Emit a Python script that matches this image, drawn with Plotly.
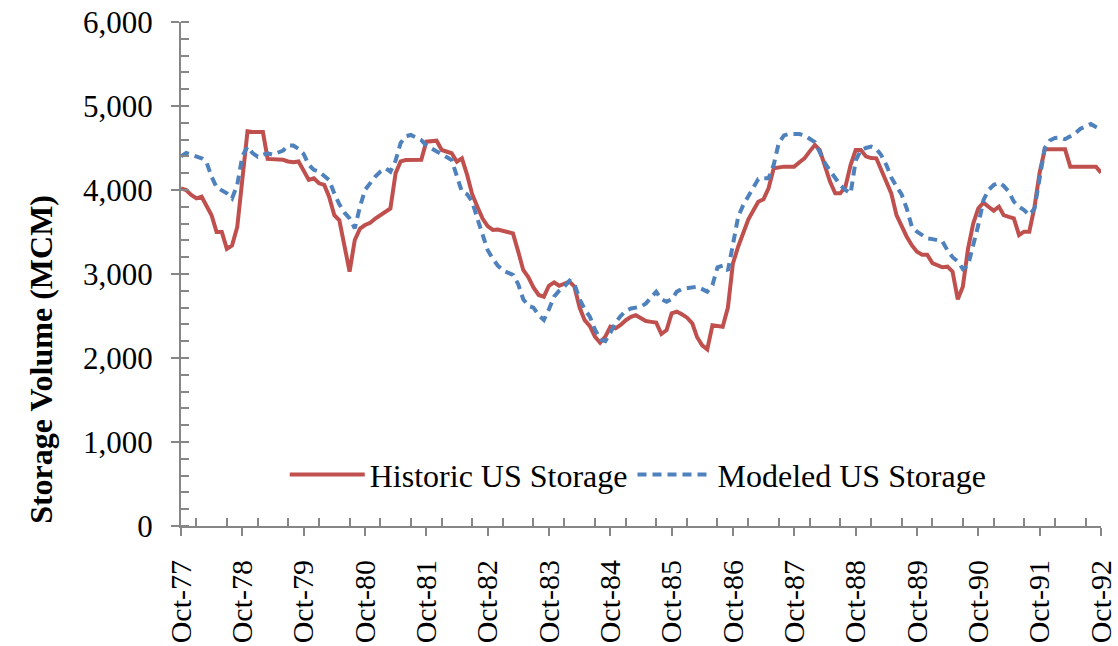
import pandas as pd
import plotly.graph_objects as go

# Monthly dates, Oct-1977 .. Oct-1992
months = pd.date_range("1977-10-01", "1992-10-01", freq="MS")

historic = [
    4020, 4000, 3940, 3900, 3920, 3820, 3700, 3500, 3500, 3300, 3340, 3560,   # Oct77-Sep78
    4150, 4700, 4690, 4690, 4690, 4370, 4365, 4360, 4360, 4340, 4330, 4340,   # Oct78-Sep79
    4220, 4120, 4140, 4080, 4060, 3920, 3700, 3640, 3330, 3028, 3405, 3540,   # Oct79-Sep80
    3583, 3610, 3660, 3702, 3740, 3780, 4200, 4340, 4357, 4357, 4357, 4360,   # Oct80-Sep81
    4575, 4580, 4587, 4476, 4450, 4437, 4337, 4377, 4180, 3950, 3800, 3660,   # Oct81-Sep82
    3570, 3524, 3530, 3510, 3500, 3484, 3270, 3048, 2960, 2840, 2750, 2730,   # Oct82-Sep83
    2860, 2900, 2860, 2880, 2909, 2849, 2600, 2450, 2380, 2254, 2182, 2254,   # Oct83-Sep84
    2373, 2353, 2393, 2450, 2490, 2510, 2470, 2440, 2430, 2421, 2286, 2333,   # Oct84-Sep85
    2532, 2552, 2520, 2480, 2413, 2250, 2150, 2103, 2390, 2380, 2373, 2600,   # Oct85-Sep86
    3127, 3325, 3500, 3650, 3762, 3861, 3889, 4020, 4258, 4270, 4278, 4278,   # Oct86-Sep87
    4278, 4330, 4377, 4460, 4536, 4476, 4278, 4100, 3960, 3960, 4040, 4300,   # Oct87-Sep88
    4476, 4476, 4400, 4380, 4377, 4250, 4119, 3960, 3700, 3560, 3444, 3340,   # Oct88-Sep89
    3266, 3230, 3230, 3130, 3100, 3080, 3087, 3028, 2699, 2849, 3300, 3600,   # Oct89-Sep90
    3780, 3850, 3800, 3754, 3802, 3702, 3680, 3663, 3464, 3504, 3504, 3800,   # Oct90-Sep91
    4200, 4484, 4484, 4484, 4484, 4484, 4278, 4278, 4278, 4278, 4278, 4278,   # Oct91-Sep92
    4206,                                                                     # Oct92
]

modeled = [
    4400, 4440, 4420, 4400, 4377, 4337, 4160, 4032, 4000, 3960, 3900, 4060,   # Oct77-Sep78
    4400, 4516, 4440, 4397, 4420, 4437, 4420, 4440, 4470, 4530, 4530, 4490,   # Oct78-Sep79
    4430, 4300, 4240, 4218, 4160, 4119, 3960, 3830, 3730, 3663, 3544, 3802,   # Oct79-Sep80
    4000, 4080, 4160, 4220, 4258, 4218, 4350, 4560, 4640, 4655, 4620, 4595,   # Oct80-Sep81
    4530, 4496, 4460, 4437, 4390, 4357, 4180, 3980, 3950, 3860, 3660, 3450,   # Oct81-Sep82
    3286, 3180, 3100, 3040, 3010, 2990, 2880, 2700, 2620, 2600, 2510, 2452,   # Oct82-Sep83
    2580, 2730, 2800, 2850, 2920, 2880, 2700, 2580, 2492, 2340, 2220, 2200,   # Oct83-Sep84
    2300, 2420, 2500, 2560, 2590, 2600, 2611, 2650, 2720, 2790, 2700, 2670,   # Oct84-Sep85
    2699, 2790, 2820, 2829, 2840, 2849, 2820, 2790, 2869, 3080, 3100, 3040,   # Oct85-Sep86
    3350, 3680, 3820, 3920, 4030, 4130, 4139, 4139, 4300, 4560, 4650, 4667,   # Oct86-Sep87
    4667, 4667, 4650, 4615, 4570, 4450, 4320, 4230, 4150, 4060, 4000, 3960,   # Oct87-Sep88
    4350, 4476, 4500, 4516, 4490, 4420, 4300, 4150, 4040, 3950, 3780, 3560,   # Oct88-Sep89
    3504, 3460, 3425, 3415, 3405, 3390, 3280, 3200, 3150, 3060, 3100, 3330,   # Oct89-Sep90
    3580, 3880, 4000, 4060, 4087, 4050, 3980, 3861, 3800, 3760, 3702, 3780,   # Oct90-Sep91
    4119, 4500, 4590, 4620, 4625, 4605, 4640, 4675, 4730, 4760, 4786, 4750,   # Oct91-Sep92
    4722,                                                                     # Oct92
]

series_names = ["Historic US Storage", "Modeled US Storage"]
y_ticks = [0, 1000, 2000, 3000, 4000, 5000, 6000]
y_title = "Storage Volume (MCM)"

FONT = "Liberation Serif"
AXIS_COLOR = "#868686"

fig = go.Figure()
fig.add_trace(go.Scatter(
    x=months, y=historic, name=series_names[0], mode="lines",
    line=dict(color="#C0504D", width=4),
))
fig.add_trace(go.Scatter(
    x=months, y=modeled, name=series_names[1], mode="lines",
    line=dict(color="#4F81BD", width=4, dash="9px,6px"),
))

x_range = ["1977-10-01", "1992-10-01"]

fig.update_layout(
    width=1118, height=646, autosize=False,
    margin=dict(l=181, r=17, t=22, b=120, autoexpand=False),
    paper_bgcolor="white", plot_bgcolor="white",
    font=dict(family=FONT, size=30, color="black"),
    showlegend=True,
    legend=dict(
        orientation="h", x=0.497, xanchor="center", y=0.102, yanchor="middle",
        bgcolor="rgba(0,0,0,0)", font=dict(family=FONT, size=32),
        itemwidth=75,
    ),
    xaxis=dict(
        type="date", range=x_range, automargin=False,
        tick0="1977-10-01", dtick="M12", tickformat="%b-%y",
        tickangle=-90, ticks="outside", ticklen=8, tickwidth=2, tickcolor=AXIS_COLOR,
        showline=True, linecolor=AXIS_COLOR, linewidth=2,
        showgrid=False, zeroline=False,
        tickfont=dict(family=FONT, size=30),
        minor=dict(dtick="M6", ticks="inside", ticklen=8, tickwidth=1.5, tickcolor=AXIS_COLOR, showgrid=False),
        ticklabelstandoff=12,
    ),
    yaxis=dict(
        range=[0, 6000], tickvals=y_ticks, tickformat=",", automargin=False,
        ticks="outside", ticklen=8, tickwidth=2, tickcolor=AXIS_COLOR,
        showline=True, linecolor=AXIS_COLOR, linewidth=2,
        showgrid=False, zeroline=False,
        tickfont=dict(family=FONT, size=31),
        minor=dict(dtick=200, ticks="inside", ticklen=8, tickwidth=1.5, tickcolor=AXIS_COLOR, showgrid=False),
        ticklabelstandoff=12,
    ),
    # overlay axes to draw inside half of the major ticks (cross ticks)
    xaxis2=dict(
        type="date", range=x_range, overlaying="x", anchor="y", side="bottom", automargin=False,
        tick0="1977-10-01", dtick="M12", ticks="inside", ticklen=8, tickwidth=2,
        tickcolor=AXIS_COLOR, showticklabels=False, showline=False, showgrid=False, zeroline=False,
    ),
    yaxis2=dict(
        range=[0, 6000], tickvals=y_ticks, overlaying="y", anchor="x", side="left", automargin=False,
        ticks="inside", ticklen=8, tickwidth=2, tickcolor=AXIS_COLOR,
        showticklabels=False, showline=False, showgrid=False, zeroline=False,
    ),
    annotations=[dict(
        text="<b>" + y_title + "</b>", xref="paper", yref="paper",
        x=-0.152, y=0.33, xanchor="center", yanchor="middle", textangle=-90,
        showarrow=False, font=dict(family=FONT, size=32, color="black"),
    )],
)

fig.write_html(
    "out.html",
    config={"displayModeBar": False},
    post_script="document.body.style.margin='0';document.body.style.overflow='hidden';",
)
